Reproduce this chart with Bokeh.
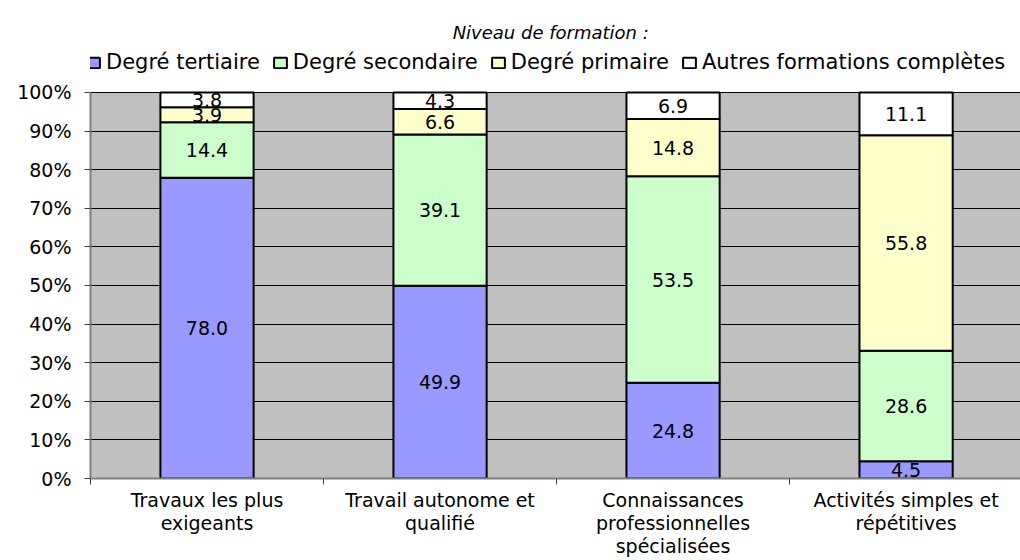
from bokeh.plotting import figure
from bokeh.models import (Range1d, FixedTicker, PrintfTickFormatter, BoxAnnotation,
                          Legend, LegendItem, Label, ColumnDataSource)
from bokeh.core.properties import value
from bokeh.embed import file_html
from bokeh.resources import INLINE

# ---- data ----
tick_labels = ["Travaux les plus\nexigeants", "Travail autonome et\nqualifié",
               "Connaissances\nprofessionnelles\nspécialisées", "Activités simples et\nrépétitives"]
series_names = ["Degré tertiaire", "Degré secondaire", "Degré primaire", "Autres formations complètes"]
tertiaire = [78.0, 49.9, 24.8, 4.5]
secondaire = [14.4, 39.1, 53.5, 28.6]
primaire = [3.9, 6.6, 14.8, 55.8]
autres = [3.8, 4.3, 6.9, 11.1]
colors = ["#9999FF", "#CCFFCC", "#FFFFCC", "#FFFFFF"]
subtitle = "Niveau de formation :"

FONT = "DejaVu Sans"
series = [tertiaire, secondaire, primaire, autres]
n = len(tick_labels)
xs = [i + 0.5 for i in range(n)]
totals = [sum(s[i] for s in series) for i in range(n)]
keys = ["s0", "s1", "s2", "s3"]
data = {"x": xs}
for k, s in zip(keys, series):
    data[k] = [v / t * 100 for v, t in zip(s, totals)]
src = ColumnDataSource(data)

p = figure(width=1020, height=560, x_range=Range1d(0, 3.991), y_range=Range1d(0, 123.83),
           output_backend="svg", toolbar_location=None,
           min_border_left=90, min_border_right=0, min_border_top=0, min_border_bottom=82)
p.outline_line_color = None
p.background_fill_color = "white"
p.border_fill_color = "white"

p.add_layout(BoxAnnotation(bottom=0, top=100, fill_color="#C0C0C0", fill_alpha=1,
                           line_color=None, level="image"))

p.xgrid.visible = False
yt = FixedTicker(ticks=list(range(0, 101, 10)))
p.ygrid.ticker = yt
p.ygrid.grid_line_color = "black"
p.ygrid.grid_line_width = 1
p.ygrid.bounds = (0, 100)

p.yaxis.ticker = yt
p.yaxis.bounds = (0, 100)
p.yaxis.formatter = PrintfTickFormatter(format="%d%%")
p.yaxis.major_label_text_font = FONT
p.yaxis.major_label_text_font_size = "19px"
p.yaxis.major_label_text_color = "black"
p.yaxis.major_tick_in = 0
p.yaxis.major_tick_out = 6
p.yaxis.minor_tick_out = 0
p.yaxis.minor_tick_in = 0
p.yaxis.major_label_standoff = 13
p.yaxis.axis_line_color = "#808080"
p.yaxis.axis_line_width = 2
p.yaxis.major_tick_line_color = "#404040"

p.xaxis.ticker = FixedTicker(ticks=xs, minor_ticks=[float(i) for i in range(n + 1)])
p.xaxis.major_label_overrides = {x: lab for x, lab in zip(xs, tick_labels)}
p.xaxis.major_label_text_font = FONT
p.xaxis.major_label_text_font_size = "19px"
p.xaxis.major_label_text_color = "black"
p.xaxis.major_label_text_line_height = 1.05
p.xaxis.major_tick_in = 0
p.xaxis.major_tick_out = 0
p.xaxis.minor_tick_in = 0
p.xaxis.minor_tick_out = 6
p.xaxis.minor_tick_line_color = "#404040"
p.xaxis.major_label_standoff = 4
p.xaxis.axis_line_color = "#808080"
p.xaxis.axis_line_width = 2

rs = p.vbar_stack(keys, x="x", width=0.4, color=colors, line_color="black",
                  line_width=2, source=src)

# data labels
lx, ly, lt = [], [], []
for i in range(n):
    base = 0.0
    for k, s in zip(keys, series):
        h = data[k][i]
        lx.append(xs[i]); ly.append(base + h / 2); lt.append(f"{s[i]:.1f}")
        base += h
p.text(x="x", y="y", text="t", source=ColumnDataSource(dict(x=lx, y=ly, t=lt)),
       text_align="center", text_baseline="middle", text_font=value(FONT),
       text_font_size="19px", text_color="black")

legend = Legend(items=[LegendItem(label=nm, renderers=[r]) for nm, r in zip(series_names, rs)],
                location=(-5, 404), orientation="horizontal",
                glyph_width=16, glyph_height=13, label_standoff=5, spacing=12,
                padding=0, margin=0, border_line_color=None, background_fill_alpha=0,
                label_text_font=FONT, label_text_font_size="21px", label_height=22,
                label_text_color="black")
p.add_layout(legend, "center")

p.add_layout(Label(x=1.975, y=115.5, text=subtitle, text_align="center", text_baseline="middle",
                   text_font=FONT, text_font_style="italic", text_font_size="18px",
                   text_color="black"))

open("out.html", "w").write(file_html(p, INLINE))
